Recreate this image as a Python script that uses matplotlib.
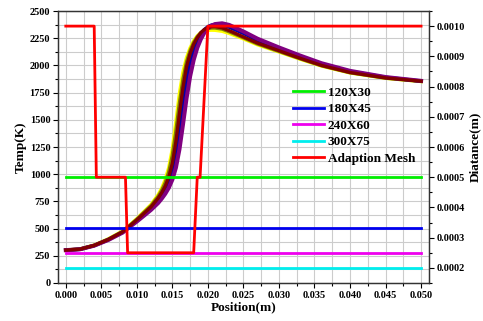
import matplotlib
matplotlib.use("Agg")
import matplotlib.pyplot as plt
from matplotlib.ticker import MultipleLocator, FormatStrFormatter

# ---- data ----
position = [0.000, 0.002, 0.004, 0.006, 0.008, 0.009, 0.010, 0.011, 0.012, 0.013,
            0.0135, 0.014, 0.0145, 0.015, 0.0155, 0.016, 0.0165, 0.017, 0.0175, 0.018,
            0.0185, 0.019, 0.0195, 0.020, 0.0205, 0.021, 0.022, 0.023, 0.025, 0.027,
            0.030, 0.033, 0.036, 0.040, 0.045, 0.050]

temp_yellow = [302, 312, 348, 405, 477, 532, 590, 655, 720, 810, 870, 950, 1060, 1230,
               1480, 1740, 1940, 2070, 2160, 2225, 2270, 2298, 2315, 2323, 2325, 2324,
               2315, 2295, 2245, 2190, 2125, 2058, 1995, 1932, 1883, 1853]
temp_olive = [302, 311, 346, 402, 473, 528, 585, 648, 710, 795, 850, 920, 1020, 1170,
              1390, 1650, 1870, 2030, 2135, 2210, 2262, 2300, 2325, 2340, 2345, 2345,
              2335, 2310, 2255, 2198, 2130, 2062, 1998, 1934, 1884, 1854]
temp_blue = [302, 310, 344, 398, 467, 520, 572, 628, 685, 755, 800, 850, 915, 1010,
             1160, 1380, 1640, 1870, 2030, 2140, 2225, 2285, 2328, 2355, 2370, 2375,
             2372, 2352, 2295, 2232, 2155, 2082, 2013, 1945, 1890, 1856]
temp_purple = [302, 310, 343, 396, 463, 515, 565, 618, 672, 735, 775, 820, 875, 950,
               1060, 1230, 1460, 1700, 1900, 2050, 2160, 2240, 2300, 2340, 2365, 2380,
               2387, 2372, 2312, 2245, 2165, 2090, 2020, 1950, 1893, 1858]
temp_maroon = [302, 311, 345, 400, 470, 524, 580, 640, 700, 780, 830, 890, 975, 1100,
               1300, 1560, 1800, 1990, 2110, 2195, 2255, 2300, 2330, 2348, 2356, 2357,
               2345, 2320, 2262, 2205, 2135, 2065, 2000, 1935, 1885, 1855]

mesh_x = [0.000, 0.050]
mesh_labels = ["120X30", "180X45", "240X60", "300X75"]
mesh_sizes = [0.0005, 0.000333, 0.00025, 0.0002]
mesh_colors = ["#00ee00", "#0000ee", "#ee00ee", "#00eeee"]

adapt_x = [0.000, 0.0040, 0.0043, 0.0084, 0.0087, 0.0180, 0.0185, 0.0189, 0.0200, 0.050]
adapt_size = [0.0010, 0.0010, 0.0005, 0.0005, 0.00025, 0.00025, 0.0005, 0.0005, 0.0010, 0.0010]

# ---- plot ----
plt.rcParams["font.family"] = ["Liberation Serif", "DejaVu Serif"]
plt.rcParams["font.weight"] = "bold"

fig = plt.figure(figsize=(4.83, 3.21), dpi=100)
ax = fig.add_axes([0.120, 0.1184, 0.768, 0.8473])

ax.set_xlim(-0.0011, 0.0511)
ax.set_ylim(0, 2500)

ax.xaxis.set_major_locator(MultipleLocator(0.005))
ax.xaxis.set_minor_locator(MultipleLocator(0.0025))
ax.yaxis.set_major_locator(MultipleLocator(250))
ax.yaxis.set_minor_locator(MultipleLocator(125))
ax.xaxis.set_major_formatter(FormatStrFormatter("%.3f"))
ax.grid(True, which="both", color="#cccccc", lw=0.8)
ax.set_axisbelow(True)

for t, c, w in [(temp_yellow, "#ffff00", 2.6), (temp_olive, "#808000", 2.6),
                (temp_blue, "#0000aa", 2.6), (temp_purple, "#800080", 2.9),
                (temp_maroon, "#800000", 2.4)]:
    ax.plot(position, t, color=c, lw=w)

ax.set_xlabel("Position(m)", fontsize=9.5, fontweight="bold", labelpad=1)
ax.set_ylabel("Temp(K)", fontsize=9.5, fontweight="bold", labelpad=2)
ax.tick_params(axis="both", which="major", labelsize=7.5, direction="out", length=3.5, width=0.8, pad=2)
ax.tick_params(axis="both", which="minor", direction="out", length=2, width=0.8)
ax.tick_params(top=False, right=False, which="both")

ax2 = ax.twinx()
ax2.set_ylim(0.00015, 0.00105)
ax2.yaxis.set_major_locator(MultipleLocator(0.0001))
ax2.yaxis.set_minor_locator(MultipleLocator(0.00005))
ax2.yaxis.set_major_formatter(FormatStrFormatter("%.4f"))
ax2.tick_params(axis="y", which="major", labelsize=7.5, direction="out", length=3.5, width=0.8, pad=2)
ax2.tick_params(axis="y", which="minor", direction="out", length=2, width=0.8)
ax2.set_ylabel("Diatance(m)", fontsize=9.5, fontweight="bold", labelpad=3)

for lab, s, c in zip(mesh_labels, mesh_sizes, mesh_colors):
    ax2.plot(mesh_x, [s, s], color=c, lw=2, label=lab)
ax2.plot(adapt_x, adapt_size, color="#ff0000", lw=2, label="Adaption Mesh")

for a in (ax, ax2):
    for sp in a.spines.values():
        sp.set_color("#333333")
        sp.set_linewidth(0.9)

leg = ax2.legend(loc="upper left", bbox_to_anchor=(0.633, 0.722), frameon=False,
                 fontsize=9.5, handlelength=2.4, handletextpad=0.25, labelspacing=0.32,
                 borderpad=0.0, borderaxespad=0.0)
for t in leg.get_texts():
    t.set_fontweight("bold")

fig.savefig("out.png", dpi=100)
